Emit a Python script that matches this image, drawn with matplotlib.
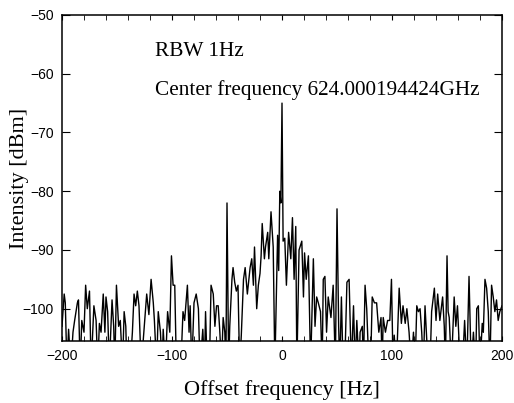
import matplotlib
matplotlib.use("Agg")
import matplotlib.pyplot as plt
from matplotlib.ticker import MultipleLocator

# Spectrum (offset Hz, level dBm); -110 = below the floor
freq_hz = [
    -200, -198, -197, -195.5, -194, -192, -190, -188.5, -186, -185, -183.5, -182,
    -180, -178.5, -177, -175, -173.5, -171, -169, -167.5, -166, -164.5, -162.5,
    -161, -160, -158.5, -157, -154.5, -153, -152, -150.5, -148.5, -147, -145,
    -143.5, -142, -141, -138, -136, -134.5, -133, -131.5, -130, -128, -126, -123,
    -121, -119, -117, -116, -114, -112.5, -110.5, -109, -108, -106, -104, -102,
    -100.5, -99, -97.5, -96, -92, -90, -88.5, -86, -84.5, -83.5, -82, -80, -78,
    -76, -74.5, -72, -70.5, -69.5, -68, -66, -64.5, -62.5, -61, -59.5, -58, -56.5,
    -55, -53.5, -52, -51, -50, -48.5, -47.5, -45.5, -44.5, -43, -41.5, -40, -38.5,
    -37, -35, -33.5, -31.5, -29, -27.5, -26, -25, -23, -21.5, -20, -19, -18, -16,
    -15, -13, -12, -10, -8, -6.5, -4, -3, -2, -1, 0, 1, 2.5, 4, 6, 8, 9.5, 11,
    12.5, 13.5, 15.5, 18, 19.5, 20.5, 22, 24, 26, 28.5, 30, 31.5, 33, 35, 36.5,
    37.5, 39, 40.5, 42, 44.5, 46.5, 48.5, 50, 51.5, 52.5, 54, 55.5, 57, 59, 61,
    63, 65, 66.5, 68, 70, 71, 73, 74, 75.5, 77, 79, 80.5, 82, 84, 86, 88, 90, 91,
    92, 94, 96, 98, 99.5, 101, 102, 104, 106.5, 108.5, 110, 112, 113.5, 115.5,
    117.5, 119.5, 121, 122.5, 124, 125.5, 127, 128.5, 130, 131.5, 133, 134.5, 136,
    138.5, 140, 141.5, 143.5, 146, 147.5, 148.5, 150, 151, 152, 154, 156.5, 158,
    159.5, 162, 164, 166, 168, 170, 172, 174, 176, 177, 178.5, 180, 182, 183,
    184.5, 186, 187.5, 189, 190.5, 192, 193.5, 195, 196.5, 198, 200,
]
level_dbm = [
    -103, -97.5, -99, -110, -103.5, -110, -104, -102, -99, -98.5, -110, -102,
    -104, -96, -100, -97, -110, -99.5, -102, -110, -102.5, -104, -97.5,
    -104, -98, -100.5, -110, -98.5, -103, -110, -96, -103, -102, -110,
    -100.5, -103, -110, -110, -104, -97.5, -99.5, -97, -99.5, -110, -105, -97.5,
    -101, -95, -99, -102, -110, -100.5, -104, -110, -103.5, -110, -100.5, -104,
    -91, -96, -96, -110, -110, -100.5, -102, -96, -104, -99.5, -110, -99, -97.5,
    -100, -110, -103.5, -110, -100.5, -110, -110, -96, -97.5, -103, -99.5, -99.5, -104,
    -110, -101.5, -104, -110, -82, -110, -103, -95, -93, -95.5, -97, -96, -110,
    -104.5, -95, -93, -97.5, -93, -91.5, -96, -89.5, -100, -96, -94, -91, -85.5, -91.5,
    -89.5, -87, -91.5, -83.5, -89.5, -110, -87.5, -93.5, -80, -82, -65, -88.5, -88, -96, -87, -91.5, -84.5, -95,
    -86, -110, -90, -88.5, -98, -90.5, -95, -91, -110, -91.5, -103, -98, -99, -100.5, -110,
    -95, -94.5, -104, -98, -101.5, -96, -110, -83, -103, -110, -98, -110, -110, -95.5, -95,
    -110, -99.5, -110, -102, -110, -104, -103, -110, -96, -100, -110, -110, -98, -99, -99, -104, -101.5, -110,
    -101.5, -104, -102, -102, -95, -110, -104.5, -110, -96.5, -102.5, -99.5, -102.5, -100, -104,
    -110, -104, -110, -99.5, -100.5, -100, -104, -110, -99.5, -105, -110, -110, -100.5,
    -96.5, -102, -97.5, -102, -98, -103, -110, -91, -100.5, -101.5, -110, -98, -103,
    -99.5, -110, -110, -102, -110, -94.5, -110, -104, -110, -100, -99.5, -110, -102.5, -104,
    -95, -96.5, -100.5, -110, -96, -98, -100.5, -98.5, -102, -100.5, -99.5,
]

x_ticks = [-200, -100, 0, 100, 200]
y_ticks = [-100, -90, -80, -70, -60, -50]

fig = plt.figure(figsize=(5.14, 4.03), dpi=100)
ax = fig.add_axes([0.1206, 0.1538, 0.8561, 0.809])

ax.plot(freq_hz, level_dbm, color="black", linewidth=1.0)

ax.set_xlim(-200, 200)
ax.set_ylim(-105.5, -50)
ax.set_xticks(x_ticks)
ax.set_yticks(y_ticks)
ax.xaxis.set_minor_locator(MultipleLocator(20))

ax.tick_params(axis="both", which="both", direction="in", top=True, right=True,
               labelsize=10)
ax.tick_params(axis="x", which="both", length=3.5, pad=6)
ax.tick_params(axis="y", which="major", length=6, pad=6)
for lab in ax.get_xticklabels() + ax.get_yticklabels():
    lab.set_family("Liberation Sans")
for s in ax.spines.values():
    s.set_linewidth(1.1)

serif = "Liberation Serif"
ax.set_xlabel("Offset frequency [Hz]", family=serif, fontsize=16, labelpad=12)
ax.set_ylabel("Intensity [dBm]", family=serif, fontsize=16)
ax.yaxis.set_label_coords(-0.075, 0.5)

ax.text(-115, -56.9, "RBW 1Hz", family=serif, fontsize=15.3, va="baseline")
ax.text(-115, -63.6, "Center frequency 624.000194424GHz", family=serif,
        fontsize=15.3, va="baseline")

fig.savefig("out.png", dpi=100)
